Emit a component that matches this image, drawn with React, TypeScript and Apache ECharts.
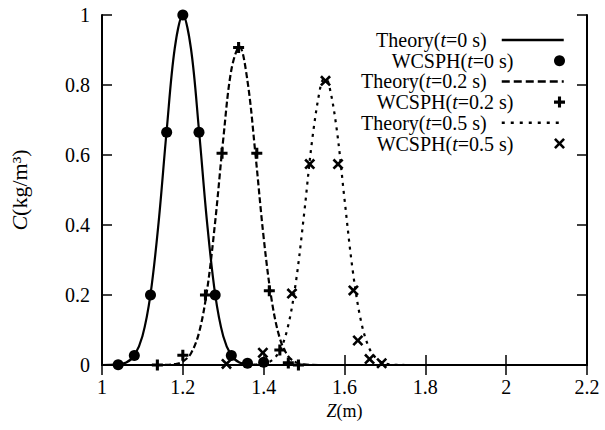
import React, { useEffect, useRef } from "react";
import * as echarts from "echarts";

// ---- Data ----
const theory0Z = [1.0, 1.02, 1.04, 1.06, 1.08, 1.1, 1.12, 1.14, 1.16, 1.18, 1.2, 1.22, 1.24, 1.26, 1.28, 1.3, 1.32, 1.34, 1.36, 1.38, 1.4, 2.0];
const theory0C = [0, 0.0003, 0.002, 0.007, 0.027, 0.082, 0.202, 0.407, 0.67, 0.905, 1, 0.905, 0.67, 0.407, 0.202, 0.082, 0.027, 0.007, 0.002, 0.0003, 0, 0];

const theory2Z = [1.0, 1.14, 1.16, 1.18, 1.2, 1.22, 1.24, 1.26, 1.28, 1.3, 1.32, 1.34, 1.36, 1.38, 1.4, 1.42, 1.44, 1.46, 1.48, 1.5, 1.52, 1.54, 2.0];
const theory2C = [0, 0, 0.0005, 0.0024, 0.0098, 0.033, 0.092, 0.214, 0.409, 0.645, 0.843, 0.91, 0.811, 0.598, 0.364, 0.184, 0.076, 0.026, 0.0075, 0.0018, 0.0004, 0, 0];

const theory5Z = [1.0, 1.34, 1.36, 1.38, 1.4, 1.42, 1.44, 1.46, 1.48, 1.5, 1.52, 1.54, 1.55, 1.56, 1.58, 1.6, 1.62, 1.64, 1.66, 1.68, 1.7, 1.72, 1.74, 1.76, 2.0];
const theory5C = [0, 0, 0.0001, 0.0007, 0.0034, 0.013, 0.041, 0.109, 0.239, 0.431, 0.643, 0.792, 0.819, 0.808, 0.68, 0.474, 0.273, 0.13, 0.051, 0.017, 0.0045, 0.001, 0.0002, 0, 0];

const sph0Z = [1.04, 1.08, 1.12, 1.16, 1.2, 1.24, 1.28, 1.32, 1.36, 1.4];
const sph0C = [0.001, 0.027, 0.2, 0.665, 1.0, 0.665, 0.2, 0.027, 0.005, 0.008];

const sph2Z = [1.137, 1.2, 1.256, 1.297, 1.338, 1.383, 1.414, 1.44, 1.461, 1.486];
const sph2C = [0.0, 0.028, 0.2, 0.605, 0.907, 0.605, 0.212, 0.043, 0.006, 0.0];

const sph5Z = [1.308, 1.398, 1.47, 1.514, 1.553, 1.584, 1.622, 1.633, 1.662, 1.692];
const sph5C = [0.003, 0.035, 0.204, 0.574, 0.812, 0.574, 0.213, 0.07, 0.017, 0.005];

const seriesNames = [
  "Theory(t=0 s)",
  "WCSPH(t=0 s)",
  "Theory(t=0.2 s)",
  "WCSPH(t=0.2 s)",
  "Theory(t=0.5 s)",
  "WCSPH(t=0.5 s)",
];

const zTicks = { min: 1, max: 2.2, interval: 0.2 };
const cTicks = { min: 0, max: 1, interval: 0.2 };

const xName = "{i|Z}(m)";
const yName = "{i|C}(kg/m³)";

// ---- Styling ----
const serif = "serif";
const plusPath = "path://M3.6,0H6.4V3.6H10V6.4H6.4V10H3.6V6.4H0V3.6H3.6Z";
const crossPath =
  "path://M1.7,0L5,3.3L8.3,0L10,1.7L6.7,5L10,8.3L8.3,10L5,6.7L1.7,10L0,8.3L3.3,5L0,1.7Z";

const zip = (xs: number[], ys: number[]) => xs.map((x, i) => [x, ys[i]]);

export default function App() {
  const ref = useRef<HTMLDivElement>(null);

  useEffect(() => {
    document.body.style.margin = "0";
    if (!ref.current) return;
    const chart = echarts.init(ref.current, undefined, { renderer: "svg" });

    const axisLine = { show: true, lineStyle: { color: "#000", width: 2 } };
    const axisTick = { show: true, inside: true, length: 10, lineStyle: { color: "#000", width: 1.5 } };

    const lineSeries = (name: string, z: number[], c: number[], type: any) => ({
      name,
      type: "line",
      data: zip(z, c),
      symbol: "none",
      showSymbol: false,
      smooth: 0.35,
      lineStyle: { color: "#000", width: 2.2, type },
      itemStyle: { color: "#000" },
      z: 2,
    });
    const scatterSeries = (name: string, z: number[], c: number[], symbol: string, size: number) => ({
      name,
      type: "scatter",
      data: zip(z, c),
      symbol,
      symbolSize: size,
      symbolKeepAspect: true,
      itemStyle: { color: "#000", opacity: 1 },
      z: 3,
    });

    const legendFormatter = (n: string) => n.replace("(t=", "({i|t}=") + "{g|}";

    const legends = seriesNames.map((n, i) => ({
      data: [n],
      orient: "vertical",
      right: 40,
      top: 30 + i * 20.7,
      align: "right",
      padding: 0,
      itemWidth: 62,
      itemHeight: 11,
      selectedMode: false,
      formatter: legendFormatter,
      itemStyle: i % 2 === 0 ? { opacity: 0 } : undefined,
      lineStyle: i === 2 ? { type: [8, 4], width: 2.5 } : i === 4 ? { type: [3, 6], width: 2.5 } : { width: 2.5 },
      textStyle: {
        fontFamily: serif,
        fontSize: 20,
        color: "#000",
        lineHeight: 20,
        rich: {
          i: { fontFamily: serif, fontStyle: "italic", fontSize: 20, color: "#000" },
          g: { width: 10 },
        },
      },
    }));

    const option: any = {
      animation: false,
      backgroundColor: "#fff",
      textStyle: { fontFamily: serif },
      grid: { left: 100, right: 18, top: 15, bottom: 65, containLabel: false },
      legend: legends,
      xAxis: [
        {
          type: "value",
          ...zTicks,
          position: "bottom",
          axisLine,
          axisTick,
          splitLine: { show: false },
          axisLabel: { fontFamily: serif, fontSize: 20, color: "#000", margin: 12 },
          name: xName,
          nameLocation: "middle",
          nameGap: 32,
          nameTextStyle: {
            fontFamily: serif,
            fontSize: 18,
            color: "#000",
            rich: { i: { fontFamily: serif, fontStyle: "italic", fontSize: 18, color: "#000" } },
          },
        },
        {
          type: "value",
          ...zTicks,
          position: "top",
          axisLine,
          axisTick,
          splitLine: { show: false },
          axisLabel: { show: false },
        },
      ],
      yAxis: [
        {
          type: "value",
          ...cTicks,
          position: "left",
          axisLine,
          axisTick,
          splitLine: { show: false },
          axisLabel: { fontFamily: serif, fontSize: 20, color: "#000", margin: 12 },
          name: yName,
          nameLocation: "middle",
          nameGap: 72,
          nameTextStyle: {
            fontFamily: serif,
            fontSize: 22,
            color: "#000",
            rich: { i: { fontFamily: serif, fontStyle: "italic", fontSize: 22, color: "#000" } },
          },
        },
        {
          type: "value",
          ...cTicks,
          position: "right",
          axisLine,
          axisTick,
          splitLine: { show: false },
          axisLabel: { show: false },
        },
      ],
      series: [
        lineSeries(seriesNames[0], theory0Z, theory0C, "solid"),
        lineSeries(seriesNames[2], theory2Z, theory2C, [6, 3]),
        lineSeries(seriesNames[4], theory5Z, theory5C, [3, 5]),
        scatterSeries(seriesNames[1], sph0Z, sph0C, "circle", 11),
        scatterSeries(seriesNames[3], sph2Z, sph2C, plusPath, 11),
        scatterSeries(seriesNames[5], sph5Z, sph5C, crossPath, 11),
      ],
    };

    chart.setOption(option);
    return () => chart.dispose();
  }, []);

  return (
    <>
      <style>{`#concentration-chart svg text { font-family: "Liberation Serif", serif !important; }`}</style>
      <div
        id="concentration-chart"
        ref={ref}
        style={{ position: "absolute", left: 0, top: 0, width: 605, height: 430, background: "#fff" }}
      />
    </>
  );
}
